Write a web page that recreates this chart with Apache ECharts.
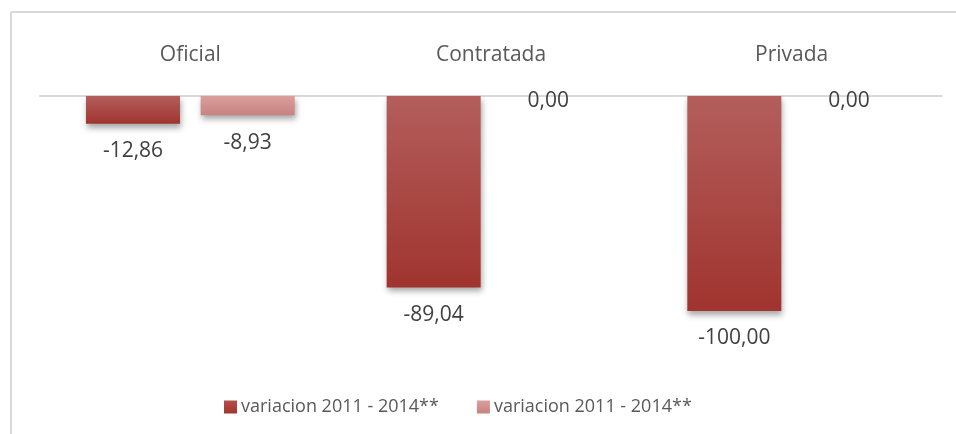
<!DOCTYPE html>
<html>
<head>
<meta charset="utf-8">
<script src="https://cdn.jsdelivr.net/npm/echarts@6/dist/echarts.min.js"></script>
<style>
  html, body { margin: 0; padding: 0; background: #fff; }
  #chart { width: 956px; height: 434px; }
</style>
</head>
<body>
<div id="chart"></div>
<script>
const categories = ['Oficial', 'Contratada', 'Privada']
const seriesNames = ['variacion 2011 - 2014**', 'variacion 2011 - 2014**']
const serieA = [-12.86, -89.04, -100.00]
const serieB = [-8.93, 0.00, 0.00]

const FONT = '"Open Sans", sans-serif'
const TXT = '#595959'

const fmt = v => v.toFixed(2).replace('.', ',')

function grad(top, bottom) {
  return new echarts.graphic.LinearGradient(0, 0, 0, 1, [
    { offset: 0, color: top },
    { offset: 1, color: bottom }
  ])
}

// zero bars: label sits right under the axis, no shadow
function items(arr) {
  return arr.map(v => {
    if (v !== 0) return v
    return {
      value: v,
      itemStyle: { shadowBlur: 0, shadowOffsetY: 0, shadowOffsetX: 0, shadowColor: 'transparent' },
      label: { distance: -5 }
    }
  })
}

function makeSeries(name, data, top, bottom) {
  return {
    name: name,
    type: 'bar',
    data: items(data),
    barWidth: 94,
    barGap: '22%',
    itemStyle: {
      color: grad(top, bottom),
      shadowColor: 'rgba(0,0,0,0.35)',
      shadowBlur: 6,
      shadowOffsetY: 4,
      shadowOffsetX: 1
    },
    label: {
      show: true,
      position: 'bottom',
      distance: 17,
      fontFamily: FONT,
      fontSize: 21,
      color: '#404040',
      formatter: p => fmt(p.value)
    }
  }
}

const chart = echarts.init(document.getElementById('chart'))
chart.setOption({
  animation: false,
  backgroundColor: '#fff',
  grid: { left: 40, right: 14, top: 96, bottom: 123 },
  graphic: [
    { type: 'line', shape: { x1: 11, y1: 12, x2: 956, y2: 12 }, style: { stroke: '#d9d9d9', lineWidth: 2 } },
    { type: 'line', shape: { x1: 11, y1: 12, x2: 11, y2: 434 }, style: { stroke: '#d9d9d9', lineWidth: 2 } }
  ],
  legend: {
    left: 219,
    top: 393,
    itemWidth: 13,
    itemHeight: 13,
    itemGap: 38,
    icon: 'rect',
    textStyle: { fontFamily: FONT, fontSize: 18, color: TXT, padding: [0, 0, 0, -1] },
    data: [
      { name: seriesNames[0], itemStyle: { color: grad('#b5504d', '#a0342f') } },
      { name: seriesNames[1] + ' ', itemStyle: { color: grad('#da9f9d', '#c88280') } }
    ]
  },
  xAxis: {
    type: 'category',
    position: 'top',
    data: categories,
    axisLine: { lineStyle: { color: '#d9d9d9', width: 2 } },
    axisTick: { show: false },
    axisLabel: { margin: 30, fontFamily: FONT, fontSize: 21, color: TXT }
  },
  yAxis: {
    type: 'value',
    min: -100,
    max: 0,
    show: false,
    splitLine: { show: false }
  },
  series: [
    makeSeries(seriesNames[0], serieA, '#b35e5c', '#a0342f'),
    makeSeries(seriesNames[1] + ' ', serieB, '#d99e9c', '#c88280')
  ]
})
</script>
</body>
</html>
